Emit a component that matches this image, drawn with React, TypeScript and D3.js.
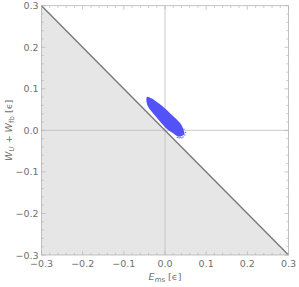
import React, { useEffect, useRef } from "react";
import * as d3 from "d3";

// axis range and ticks
const xDomain = [-0.3, 0.3];
const yDomain = [-0.3, 0.3];
const majorTicks = [-0.3, -0.2, -0.1, 0.0, 0.1, 0.2, 0.3];
const minorTicks = d3.range(-15, 16).map((i) => i / 50);

// boundary line E + W = 0 (shaded below)
const boundaryX = [-0.3, 0.3];
const boundaryY = [0.3, -0.3];

// outline of the dense sample cloud
const cloudX = [
  -0.0435, -0.033, -0.0207, -0.0046, 0.0117, 0.028, 0.04, 0.045, 0.047, 0.042,
  0.032, 0.02, 0.0075, -0.0046, -0.0168, -0.029, -0.041, -0.045, -0.045,
];
const cloudY = [
  0.081, 0.077, 0.069, 0.057, 0.042, 0.0265, 0.0128, 0.0007, -0.008, -0.013,
  -0.015, -0.007, 0.0007, 0.0128, 0.0265, 0.041, 0.057, 0.069, 0.077,
];

// stray samples around the lower end of the cloud
const strayX = [0.048, 0.044, 0.037, 0.03, 0.046, 0.034, 0.05, 0.041];
const strayY = [-0.011, -0.016, -0.017, -0.017, 0.003, -0.018, -0.005, -0.018];

const W = 299;
const H = 287;
const margin = { left: 41.5, right: 10.5, top: 5.7, bottom: 32 };

export default function App() {
  const ref = useRef<SVGSVGElement>(null);

  useEffect(() => {
    const svg = d3.select(ref.current);
    svg.selectAll("*").remove();

    const x = d3.scaleLinear().domain(xDomain).range([margin.left, W - margin.right]);
    const y = d3.scaleLinear().domain(yDomain).range([H - margin.bottom, margin.top]);
    const font = "'DejaVu Sans', sans-serif";
    const gray = "#707070";

    // shaded region below the line
    const [x0, x1] = xDomain;
    const [y0] = yDomain;
    svg
      .append("path")
      .attr(
        "d",
        d3.line()([
          [x(boundaryX[0]), y(boundaryY[0])],
          [x(boundaryX[1]), y(boundaryY[1])],
          [x(x0), y(y0)],
        ]) + "Z"
      )
      .attr("fill", "#e6e6e6");

    // zero grid lines
    svg
      .append("line")
      .attr("x1", x(0)).attr("x2", x(0))
      .attr("y1", y(yDomain[0])).attr("y2", y(yDomain[1]))
      .attr("stroke", "#bdbdbd").attr("stroke-width", 0.8);
    svg
      .append("line")
      .attr("x1", x(x0)).attr("x2", x(x1))
      .attr("y1", y(0)).attr("y2", y(0))
      .attr("stroke", "#bdbdbd").attr("stroke-width", 0.8);

    // boundary line
    svg
      .append("line")
      .attr("x1", x(boundaryX[0])).attr("y1", y(boundaryY[0]))
      .attr("x2", x(boundaryX[1])).attr("y2", y(boundaryY[1]))
      .attr("stroke", "#7a7a7a").attr("stroke-width", 1.4);

    // sample cloud
    const cloudPts: [number, number][] = cloudX.map((v, i) => [x(v), y(cloudY[i])]);
    svg
      .append("path")
      .attr("d", d3.line().curve(d3.curveCatmullRomClosed)(cloudPts))
      .attr("fill", "#5252f7");
    svg
      .append("g")
      .selectAll("rect")
      .data(strayX.map((v, i) => [v, strayY[i]]))
      .join("rect")
      .attr("x", (d) => x(d[0]) - 0.6)
      .attr("y", (d) => y(d[1]) - 0.6)
      .attr("width", 1.2)
      .attr("height", 1.2)
      .attr("fill", "#6a6af7");

    // frame
    svg
      .append("rect")
      .attr("x", x(x0)).attr("y", y(yDomain[1]))
      .attr("width", x(x1) - x(x0))
      .attr("height", y(yDomain[0]) - y(yDomain[1]))
      .attr("fill", "none")
      .attr("stroke", "#b4b4b4")
      .attr("stroke-width", 0.8);

    // ticks on all four sides
    const ticks = svg.append("g").attr("stroke", "#b4b4b4").attr("stroke-width", 0.7);
    const isMajor = (t: number) => Math.abs(t * 10 - Math.round(t * 10)) < 1e-6;
    minorTicks.forEach((t) => {
      const len = isMajor(t) ? 4 : 2.2;
      ticks.append("line").attr("x1", x(t)).attr("x2", x(t))
        .attr("y1", y(yDomain[0])).attr("y2", y(yDomain[0]) - len);
      ticks.append("line").attr("x1", x(t)).attr("x2", x(t))
        .attr("y1", y(yDomain[1])).attr("y2", y(yDomain[1]) + len);
      ticks.append("line").attr("y1", y(t)).attr("y2", y(t))
        .attr("x1", x(x0)).attr("x2", x(x0) + len);
      ticks.append("line").attr("y1", y(t)).attr("y2", y(t))
        .attr("x1", x(x1)).attr("x2", x(x1) - len);
    });

    const fmt = (t: number) => (t < 0 ? "\u2212" : "") + d3.format(".1f")(Math.abs(t));

    // x tick labels
    svg
      .append("g")
      .selectAll("text")
      .data(majorTicks)
      .join("text")
      .attr("x", (d) => x(d))
      .attr("y", y(yDomain[0]) + 12)
      .attr("text-anchor", "middle")
      .attr("font-family", font)
      .attr("font-size", 9.5)
      .attr("fill", gray)
      .text(fmt);

    // y tick labels
    svg
      .append("g")
      .selectAll("text")
      .data(majorTicks)
      .join("text")
      .attr("x", x(x0) - 3)
      .attr("y", (d) => y(d) + 3.5)
      .attr("text-anchor", "end")
      .attr("font-family", font)
      .attr("font-size", 9.5)
      .attr("fill", gray)
      .text(fmt);

    // x axis label
    const xl = svg
      .append("text")
      .attr("x", x(0))
      .attr("y", 280)
      .attr("text-anchor", "middle")
      .attr("font-family", font)
      .attr("font-size", 9.5)
      .attr("fill", gray);
    xl.append("tspan").attr("font-style", "italic").text("E");
    xl.append("tspan").attr("font-size", 7).attr("dy", 2).text("ms");
    xl.append("tspan").attr("dy", -2).text(" [\u03f5]");

    // y axis label
    const yl = svg
      .append("text")
      .attr("transform", `translate(12,${y(0)}) rotate(-90)`)
      .attr("text-anchor", "middle")
      .attr("font-family", font)
      .attr("font-size", 9.5)
      .attr("fill", gray);
    yl.append("tspan").attr("font-style", "italic").text("W");
    yl.append("tspan").attr("font-size", 7).attr("font-style", "italic").attr("dy", 2).text("U");
    yl.append("tspan").attr("dy", -2).text(" + ");
    yl.append("tspan").attr("font-style", "italic").text("W");
    yl.append("tspan").attr("font-size", 7).attr("dy", 2).text("fb");
    yl.append("tspan").attr("dy", -2).text(" [\u03f5]");
  }, []);

  return (
    <svg
      ref={ref}
      width={W}
      height={H}
      style={{ position: "absolute", left: 0, top: 0, background: "#fff" }}
    />
  );
}
